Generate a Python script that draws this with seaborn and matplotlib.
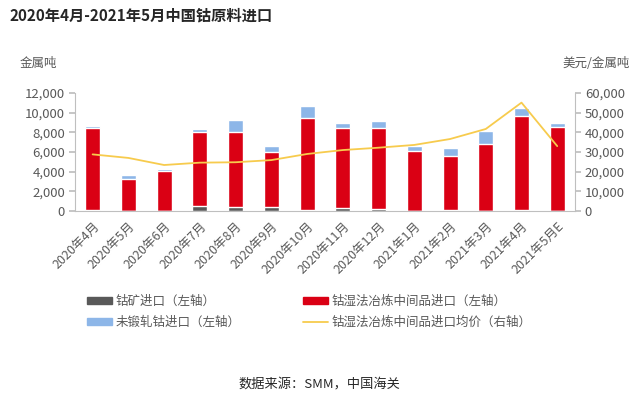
import numpy as np
import pandas as pd
import matplotlib
matplotlib.use("Agg")
import matplotlib.pyplot as plt
from matplotlib.patches import Patch
from matplotlib.lines import Line2D
from matplotlib.ticker import FuncFormatter, MultipleLocator
import seaborn as sns

months = ["2020年4月", "2020年5月", "2020年6月", "2020年7月", "2020年8月", "2020年9月",
          "2020年10月", "2020年11月", "2020年12月", "2021年1月", "2021年2月", "2021年3月",
          "2021年4月", "2021年5月E"]

# metal tonnes, left axis
ore = [100, 50, 50, 550, 450, 450, 100, 350, 200, 50, 100, 50, 100, 50]
intermediate = [8370, 3170, 4050, 7520, 7620, 5520, 9390, 8120, 8270, 6050, 5500, 6730, 9560, 8530]
unwrought = [180, 440, 200, 270, 1190, 670, 1160, 510, 680, 480, 780, 1390, 840, 400]
# USD / metal tonne, right axis
avg_price = [28800, 27000, 23400, 24600, 24800, 25900, 29000, 31000, 32200, 33600,
             36600, 41700, 55100, 33000]

sns.set_theme(style="white")
plt.rcParams['font.family'] = ['Noto Sans CJK SC', 'DejaVu Sans']

c_ore = "#595959"
c_mid = "#DA0014"
c_unw = "#8DB6E8"
c_line = "#F7CB4D"
c_txt = "#595959"
c_ax = "#BFBFBF"

df = pd.DataFrame({"month": months, "ore": ore, "mid": intermediate, "unw": unwrought})
df["s2"] = df["ore"] + df["mid"]
df["s3"] = df["s2"] + df["unw"]

fig = plt.figure(figsize=(6.39, 3.99), dpi=100)
ax = fig.add_axes([0.117, 0.471, 0.783, 0.296])

w = 0.42
sns.barplot(data=df, x="month", y="s3", color=c_unw, width=w, saturation=1, ax=ax)
sns.barplot(data=df, x="month", y="s2", color=c_mid, width=w, saturation=1, ax=ax)
sns.barplot(data=df, x="month", y="ore", color=c_ore, width=w, saturation=1, ax=ax)

ax.set_xlim(-0.5, len(months) - 0.5)
ax.set_ylim(0, 12000)
ax.yaxis.set_major_locator(MultipleLocator(2000))
fmt = FuncFormatter(lambda v, p: f"{int(v):,}")
ax.yaxis.set_major_formatter(fmt)
ax.set_xlabel("")
ax.set_ylabel("")
ax.set_xticks(range(len(months)))
ax.set_xticklabels(months, rotation=45, ha="right", rotation_mode="anchor", fontsize=9, color=c_txt)
ax.set_xticks(np.arange(-0.5, len(months), 1), minor=True)
ax.tick_params(axis="x", which="major", length=0, pad=6)
ax.tick_params(axis="x", which="minor", length=4, color=c_ax, direction="out")
ax.tick_params(axis="y", length=4, color=c_ax, labelsize=9.5, labelcolor=c_txt, direction="out", pad=3)
ax.tick_params(axis="both", bottom=True, left=True)
for s in ["top", "right"]:
    ax.spines[s].set_visible(False)
for s in ["left", "bottom"]:
    ax.spines[s].set_color(c_ax)
    ax.spines[s].set_linewidth(0.8)

ax2 = ax.twinx()
sns.lineplot(x=np.arange(len(months)), y=avg_price, color=c_line, linewidth=1.3, ax=ax2)
ax2.set_ylim(0, 60000)
ax2.yaxis.set_major_locator(MultipleLocator(10000))
ax2.yaxis.set_major_formatter(fmt)
ax2.tick_params(axis="y", right=True, length=4, color=c_ax, labelsize=9.5, labelcolor=c_txt, direction="out", pad=3)
for s in ["top", "left", "bottom"]:
    ax2.spines[s].set_visible(False)
ax2.spines["right"].set_color(c_ax)
ax2.spines["right"].set_linewidth(0.8)
ax2.set_xlim(-0.5, len(months) - 0.5)

fig.text(0.015, 0.962, "2020年4月-2021年5月中国钴原料进口", fontsize=11, fontweight="bold",
         color="#262626", va="center", ha="left")
fig.text(0.03, 0.84, "金属吨", fontsize=9, color=c_txt, va="center", ha="left")
fig.text(0.985, 0.84, "美元/金属吨", fontsize=9, color=c_txt, va="center", ha="right")

handles = [Patch(color=c_ore), Patch(color=c_unw), Patch(color=c_mid),
           Line2D([0], [0], color=c_line, lw=1.3)]
labels = ["钴矿进口（左轴）", "未锻轧钴进口（左轴）", "钴湿法冶炼中间品进口（左轴）",
          "钴湿法冶炼中间品进口均价（右轴）"]
fig.legend(handles, labels, ncol=2, loc="center left", bbox_to_anchor=(0.118, 0.218),
           frameon=False, fontsize=9, labelcolor=c_txt, handlelength=2.0, handleheight=0.5,
           handletextpad=0.3, columnspacing=5.0, labelspacing=0.65)

fig.text(0.5, 0.035, "数据来源：SMM，中国海关", fontsize=9.5, style="italic", color="#262626",
         ha="center", va="center")

fig.savefig("out.png", dpi=100)
